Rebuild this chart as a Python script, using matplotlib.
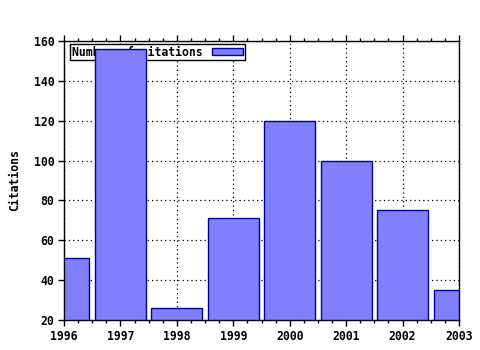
import matplotlib
matplotlib.use("Agg")
import matplotlib.pyplot as plt
from matplotlib.ticker import MultipleLocator

years = [1996, 1997, 1998, 1999, 2000, 2001, 2002, 2003]
citations = [51, 156, 26, 71, 120, 100, 75, 35]
series_label = "Number of citations"

plt.rcParams['font.family'] = 'DejaVu Sans Mono'
plt.rcParams['font.weight'] = 'bold'
plt.rcParams['axes.labelweight'] = 'bold'
plt.rcParams['font.size'] = 8.3

fig = plt.figure(figsize=(4.8, 3.5), dpi=100)
ax = fig.add_axes([64/480, 30/350, 395/480, 279/350])

ax.bar(years, citations, width=0.9, color='#8080ff', edgecolor='#0000a0',
       linewidth=1, label=series_label, zorder=2)

ax.set_xlim(1996, 2003)
ax.set_ylim(20, 160)
ax.xaxis.set_minor_locator(MultipleLocator(0.25))
ax.yaxis.set_major_locator(MultipleLocator(20))
ax.set_xticks(years)
ax.set_xticklabels([str(y) for y in years])

ax.tick_params(axis='x', which='both', top=True, bottom=True, direction='out')
ax.tick_params(axis='x', which='major', length=4, width=1, pad=3)
ax.tick_params(axis='x', which='minor', length=2, width=1)
ax.tick_params(axis='y', which='major', left=True, right=False, length=4, width=1, pad=3)

ax.set_axisbelow(True)
ax.grid(True, which='major', color='black', linestyle=(0, (1, 2.5)), linewidth=0.9)

for s in ax.spines.values():
    s.set_linewidth(1)
    s.set_color('black')

ax.set_ylabel("Citations", labelpad=9, fontweight='bold')

leg = ax.legend(loc='upper left', bbox_to_anchor=(0.016, 0.99), markerfirst=False,
                frameon=True, fancybox=False, edgecolor='black', framealpha=1,
                borderpad=0.15, handlelength=2.7, handleheight=0.5,
                handletextpad=0.8, borderaxespad=0)
leg.get_frame().set_linewidth(1)
leg.set_zorder(1.5)

fig.savefig("out.png", dpi=100)
